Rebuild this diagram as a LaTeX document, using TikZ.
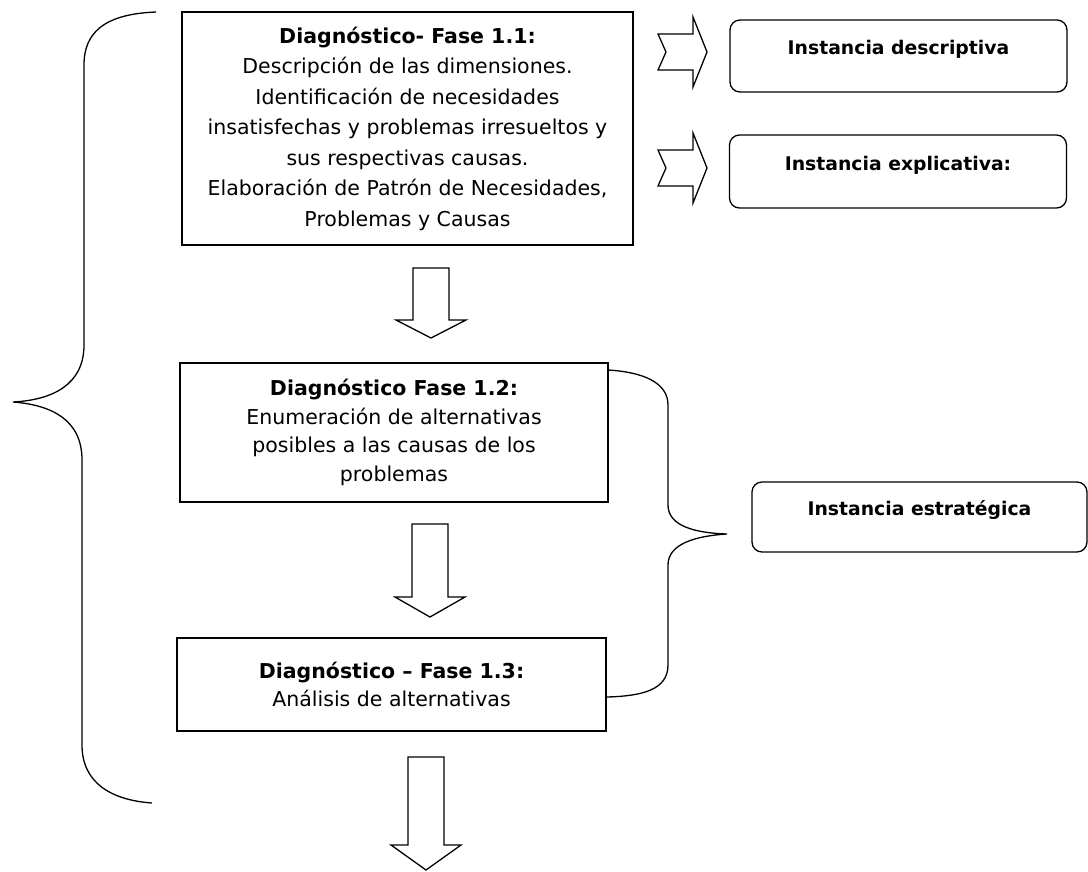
\documentclass[tikz,border=0pt]{standalone}
\usepackage{fontspec}
\setmainfont{DejaVu Sans}
\begin{document}
\begin{tikzpicture}[x=1pt, y=-1pt, line width=1.3pt,
    fase/.style={draw, align=center, inner sep=0pt, font=\fontsize{20.5}{28.5}\selectfont},
    inst/.style={draw, rounded corners=10pt, inner sep=0pt, minimum width=337pt, minimum height=72pt,
        text height=14pt, text depth=17pt, font=\fontsize{18.8}{22}\selectfont\bfseries},
    blk/.style={draw, line join=miter}]
    \useasboundingbox (0,0) rectangle (1088,871);

    % phases
    \node[fase, minimum width=451pt, minimum height=233pt, font=\fontsize{20.5}{30.5}\selectfont] (f11) at (407.5,128.5)
        {\textbf{Diagnóstico- Fase 1.1:}\\ Descripción de las dimensiones.\\ Identificación de necesidades\\
         insatisfechas y problemas irresueltos y\\ sus respectivas causas.\\
         Elaboración de Patrón de Necesidades,\\ Problemas y Causas};
    \node[fase, minimum width=428pt, minimum height=139pt] (f12) at (394,432.5)
        {\textbf{Diagnóstico Fase 1.2:}\\ Enumeración de alternativas\\ posibles a las causas de los\\ problemas};
    \node[fase, minimum width=429pt, minimum height=93pt] (f13) at (391.5,684.5)
        {\textbf{Diagnóstico -- Fase 1.3:}\\ Análisis de alternativas};

    % instancias
    \node[inst] (desc) at (898.5,56) {Instancia descriptiva};
    \node[inst, minimum height=73pt] (expl) at (898,171.5) {Instancia explicativa:};
    \node[inst, minimum width=335pt, minimum height=70pt] (estr) at (919.5,517) {Instancia estratégica};

    % block arrows
    \foreach \y in {52,168}
        \draw[blk] (658,{\y-18}) -- (693,{\y-18}) -- (693,{\y-35}) -- (707,\y) -- (693,{\y+35})
            -- (693,{\y+18}) -- (658,{\y+18}) -- (666,\y) -- cycle;
    \foreach \x/\t/\b/\e in {431/268/320/338, 430/524/597/617, 426/757/845/870}
        \draw[blk] ({\x-18},\t) -- ({\x+18},\t) -- ({\x+18},\b) -- ({\x+35},\b) -- (\x,\e)
            -- ({\x-35},\b) -- ({\x-18},\b) -- cycle;

    % braces
    \draw (156,12) .. controls (105,14) and (84,32) .. (84,65) -- (84,345)
        .. controls (84,385) and (52,400) .. (13,402) .. controls (52,405) and (82,420) .. (82,460)
        -- (82,745) .. controls (82,782) and (110,800) .. (152,803);
    \draw (608,370) .. controls (642,372) and (668,382) .. (668,405) -- (668,505)
        .. controls (668,526) and (695,533) .. (727,534) .. controls (695,536) and (668,544) .. (668,565)
        -- (668,665) .. controls (668,690) and (642,696) .. (607,697);
\end{tikzpicture}
\end{document}
